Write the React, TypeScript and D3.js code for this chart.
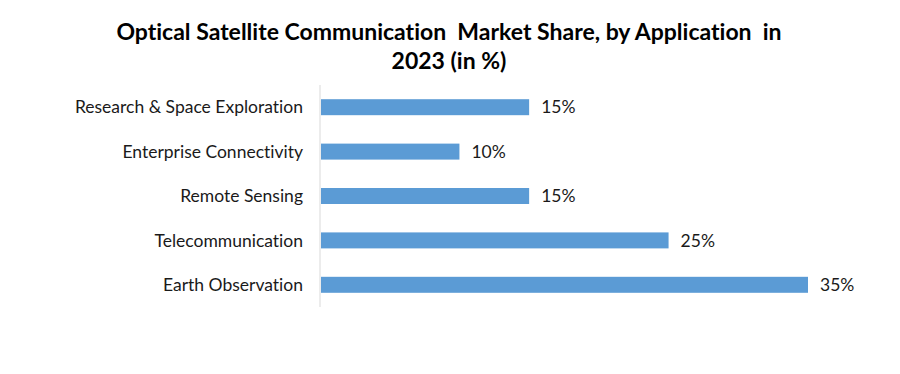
import * as d3 from "d3";

const categories = [
  "Research & Space Exploration",
  "Enterprise Connectivity",
  "Remote Sensing",
  "Telecommunication",
  "Earth Observation",
];
const shares = [15, 10, 15, 25, 35];
const titleLines = [
  "Optical Satellite Communication  Market Share, by Application  in",
  "2023 (in %)",
];

export default function App() {
  const width = 900;
  const height = 374;
  const x0 = 320;
  const x = d3.scaleLinear().domain([0, 35]).range([x0, 808]);
  const y = d3.scaleBand<string>().domain(categories).range([85, 307]).paddingInner(0.64).paddingOuter(0.32);
  const font = "Lato, 'Open Sans', sans-serif";

  return (
    <svg width={width} height={height}
      style={{ position: "absolute", left: 0, top: 0, background: "#fff", fontVariantLigatures: "none" }}>
      <g fontFamily={font} fontWeight="bold" fontSize={23} fill="#000" textAnchor="middle">
        {titleLines.map((t, i) => (
          <text key={i} x={449} y={40 + i * 29} style={{ whiteSpace: "pre" }}>{t}</text>
        ))}
      </g>
      <line x1={x0} x2={x0} y1={85} y2={307} stroke="#d9d9d9" strokeWidth={1} />
      {categories.map((c, i) => (
        <g key={c}>
          <rect x={x0 + 1} y={y(c)!} width={x(shares[i]) - x0 - 1} height={y.bandwidth()} fill="#5b9bd5" />
          <text x={x(0) - 17} y={y(c)! + y.bandwidth() / 2} dy="0.35em" textAnchor="end"
            fontFamily={font} fontSize={17.5} fill="#1a1a1a">{c}</text>
          <text x={x(shares[i]) + 12} y={y(c)! + y.bandwidth() / 2} dy="0.35em"
            fontFamily={font} fontSize={17.5} fill="#1a1a1a">{shares[i]}%</text>
        </g>
      ))}
    </svg>
  );
}
